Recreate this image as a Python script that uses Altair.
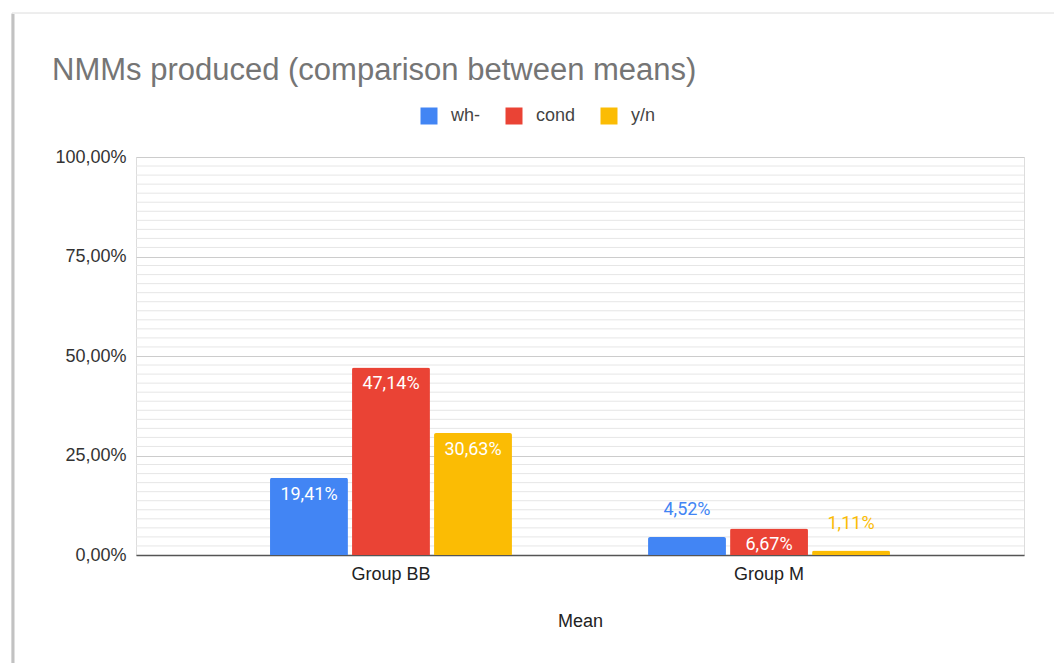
import altair as alt
import pandas as pd

title_text = "NMMs produced (comparison between means)"
groups = ["Group BB", "Group M"]
series = ["wh-", "cond", "y/n"]
colors = ["#4285F4", "#EA4335", "#FBBC04"]
values_bb = [0.1941, 0.4714, 0.3063]
values_m = [0.0452, 0.0667, 0.0111]
y_ticks = [0, 0.25, 0.5, 0.75, 1.0]
minor_ticks = [k * 0.25 / 11 for k in range(45) if k % 11 != 0]

rows = []
for s, v in zip(series, values_bb):
    rows.append({"group": groups[0], "series": s, "value": v})
for s, v in zip(series, values_m):
    rows.append({"group": groups[1], "series": s, "value": v})
df = pd.DataFrame(rows)
grid_df = pd.DataFrame({"v": minor_ticks})

W, H = 888, 398
FONT = "Liberation Sans"
label_expr = "replace(format(datum.value, '.2%'), '.', ',')"

color_scale = alt.Scale(domain=series, range=colors)
x_axis = alt.Axis(title="Mean", labelAngle=0, ticks=False,
                  domainColor="#555555", domainWidth=1.5,
                  labelFontSize=18, labelFont=FONT, labelColor="#222222",
                  labelPadding=10, titleFontSize=18, titleFont=FONT,
                  titleFontWeight="normal", titleColor="#222222",
                  titlePadding=29)
x_scale = alt.Scale(paddingInner=0.36, paddingOuter=0.3545)
xo_enc = alt.XOffset("series:N", sort=series,
                     scale=alt.Scale(paddingInner=0.05, paddingOuter=0))
y_scale = alt.Scale(domain=[0, 1], nice=False)
y_axis = alt.Axis(title=None, values=y_ticks, labelExpr=label_expr,
                  domain=False, ticks=False, grid=True, gridColor="#cccccc",
                  labelFontSize=18, labelFont=FONT, labelColor="#333333",
                  labelPadding=10)

one = pd.DataFrame({"t": [title_text]})

border = alt.Chart(one).mark_rect(
    filled=False, stroke="#dcdcdc", strokeWidth=1
).encode(x=alt.value(-124), x2=alt.value(W + 40), y=alt.value(-144), y2=alt.value(H + 120))

shadow = alt.Chart(one).mark_rule(
    color="#c2c2c2", strokeWidth=3
).encode(x=alt.value(-123), y=alt.value(-143), y2=alt.value(H + 120))

title = alt.Chart(one).mark_text(
    align="left", baseline="alphabetic", fontSize=31, font=FONT, color="#757575"
).encode(x=alt.value(-84), y=alt.value(-77), text="t:N")

minor = alt.Chart(grid_df).mark_rule(color="#e6e6e6", strokeWidth=1).encode(
    y=alt.Y("v:Q", scale=y_scale, axis=y_axis)
)

bars = alt.Chart(df).mark_bar(cornerRadiusTopLeft=2, cornerRadiusTopRight=2).encode(
    x=alt.X("group:N", sort=groups, scale=x_scale, axis=x_axis),
    xOffset=xo_enc,
    y=alt.Y("value:Q", scale=y_scale, axis=y_axis),
    color=alt.Color("series:N", scale=color_scale,
                    legend=alt.Legend(title=None, orient="none", legendX=284, legendY=-50,
                                      direction="horizontal", symbolType="square",
                                      symbolSize=289, symbolStrokeWidth=0,
                                      labelFontSize=18, labelFont=FONT,
                                      labelColor="#444444", labelOffset=13,
                                      columnPadding=24)),
)

inside = alt.Chart(df).transform_filter("datum.value >= 0.05").transform_calculate(
    label=label_expr
).mark_text(baseline="alphabetic", dy=22, fontSize=18, font="Roboto", color="white").encode(
    x=alt.X("group:N", sort=groups, scale=x_scale, axis=x_axis),
    xOffset=xo_enc,
    y=alt.Y("value:Q", scale=y_scale, axis=y_axis),
    text="label:N",
)

outside = alt.Chart(df).transform_filter("datum.value < 0.05").transform_calculate(
    label=label_expr
).mark_text(baseline="alphabetic", dy=-22, fontSize=18, font="Roboto").encode(
    x=alt.X("group:N", sort=groups, scale=x_scale, axis=x_axis),
    xOffset=xo_enc,
    y=alt.Y("value:Q", scale=y_scale, axis=y_axis),
    text="label:N",
    color=alt.Color("series:N", scale=color_scale, legend=None),
)

chart = alt.layer(border, shadow, title, minor, bars, inside, outside).properties(
    width=W, height=H,
    padding={"left": 136, "top": 157, "right": 30, "bottom": 108},
    autosize="none",
).configure_view(stroke="transparent", strokeWidth=0).configure(background="white")

chart.save("out.html", embed_options={"renderer": "svg", "actions": False})
